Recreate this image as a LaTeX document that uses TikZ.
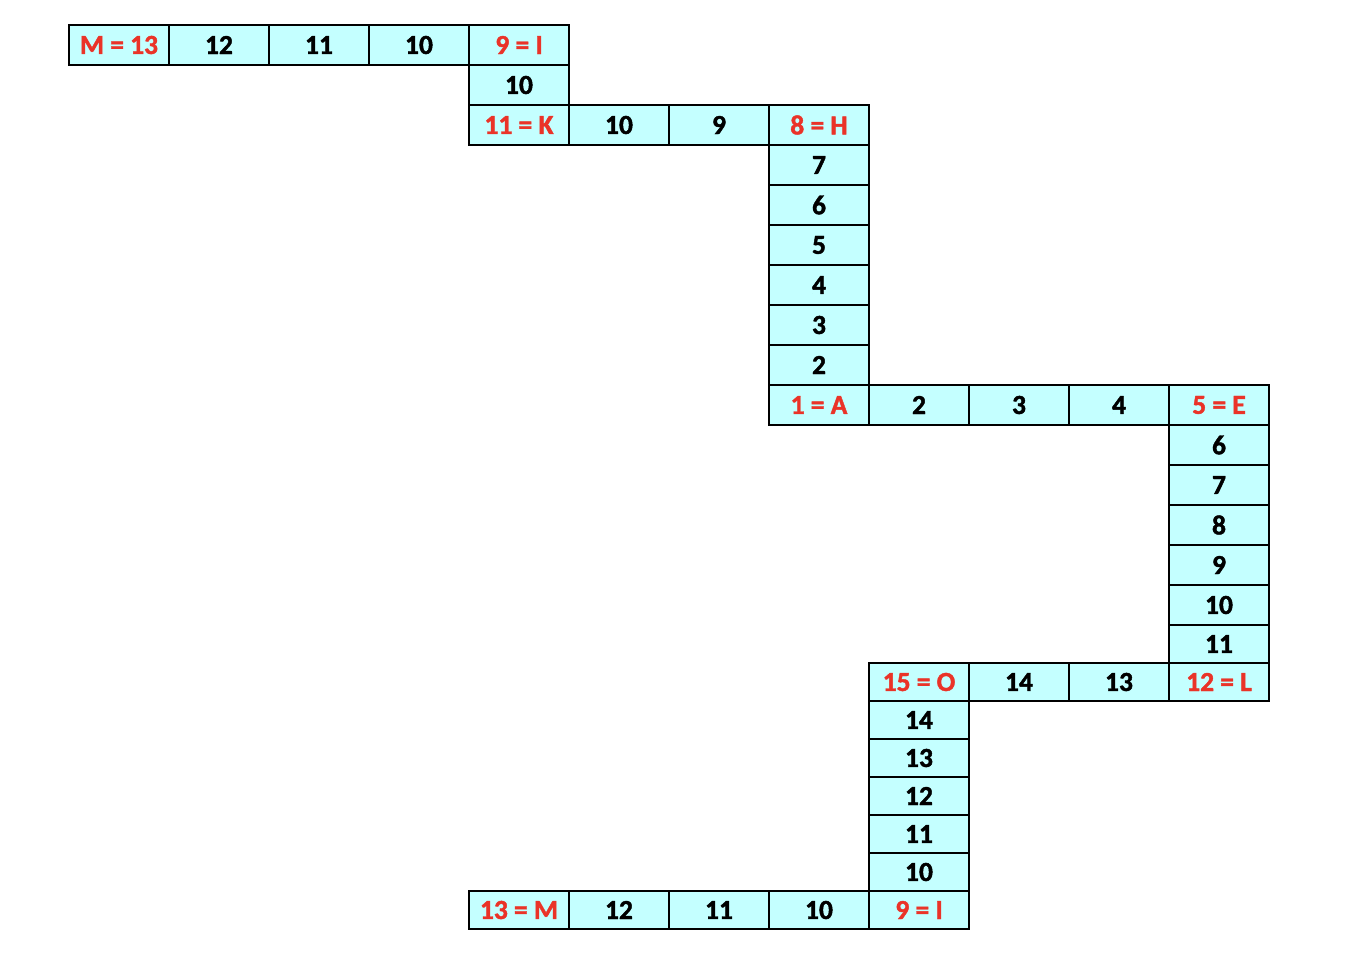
\documentclass[tikz,border=0pt]{standalone}
\usepackage{fontspec}
\setmainfont{Carlito}[BoldFont={Carlito Bold}, BoldFeatures={FakeBold=1.5}]
\usetikzlibrary{positioning}
\definecolor{cellcyan}{RGB}{196,255,255}
\definecolor{letterred}{RGB}{234,51,40}

\begin{document}
\begin{tikzpicture}[x=1pt, y=-1pt,
    cell/.style={draw, line width=1.6pt, fill=cellcyan, rectangle, minimum width=100pt, minimum height=40pt, inner sep=0pt, font=\fontsize{27.5}{30}\selectfont\bfseries},
    low/.style={minimum height=38pt},
    key/.style={text=letterred}]
    \useasboundingbox (0,0) rectangle (1346,974);

    % top row: M = 13 down to 9 = I
    \node[cell, key] (m13) at (119,45) {M = 13};
    \foreach \v [count=\i] in {12,11,10} {
        \node[cell] (top\v) at (119+100*\i,45) {\v};
    }
    \node[cell, key] (topI) at (519,45) {9 = I};
    \node[cell] (mid10) at (519,85) {10};

    % K row
    \node[cell, key] (k11) at (519,125) {11 = K};
    \node[cell] (krow10) at (619,125) {10};
    \node[cell] (krow9) at (719,125) {9};
    \node[cell, key] (h8) at (819,125) {8 = H};

    % column down to A
    \foreach \v [count=\i] in {7,6,5,4,3,2} {
        \node[cell] (hcol\v) at (819,125+40*\i) {\v};
    }
    \node[cell, key] (a1) at (819,405) {1 = A};

    % A row
    \foreach \v [count=\i] in {2,3,4} {
        \node[cell] (arow\v) at (819+100*\i,405) {\v};
    }
    \node[cell, key] (e5) at (1219,405) {5 = E};

    % column down to L
    \foreach \v [count=\i] in {6,7,8,9,10} {
        \node[cell] (ecol\v) at (1219,405+40*\i) {\v};
    }
    \node[cell, low] (ecol11) at (1219,644) {11};
    \node[cell, low, key] (l12) at (1219,682) {12 = L};

    % O row
    \node[cell, low, key] (o15) at (919,682) {15 = O};
    \node[cell, low] (orow14) at (1019,682) {14};
    \node[cell, low] (orow13) at (1119,682) {13};

    % column down to I
    \foreach \v [count=\i] in {14,13,12,11,10} {
        \node[cell, low] (ocol\v) at (919,682+38*\i) {\v};
    }
    \node[cell, low, key] (botI) at (919,910) {9 = I};

    % bottom row
    \node[cell, low, key] (m13b) at (519,910) {13 = M};
    \foreach \v [count=\i] in {12,11,10} {
        \node[cell, low] (bot\v) at (519+100*\i,910) {\v};
    }
\end{tikzpicture}
\end{document}
